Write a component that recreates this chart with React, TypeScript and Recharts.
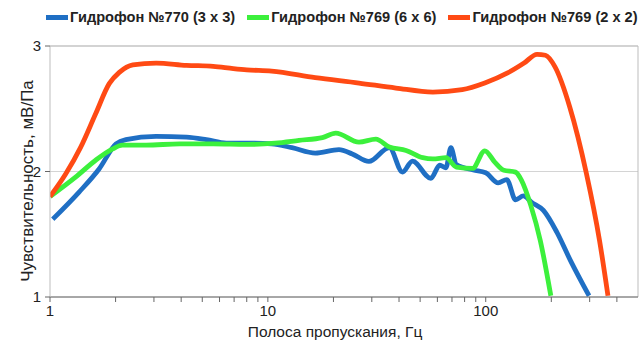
import React from 'react';
import { LineChart, Line, XAxis, YAxis, CartesianGrid, ReferenceLine } from 'recharts';

// Гидрофон №770 (3 x 3)
const blueFreq = [1.03, 1.36, 1.68, 2.01, 2.23, 3.07, 4.23, 5.22, 6.45, 8.0, 10.4, 12.9, 16.5, 21.2, 24.4, 29.1, 36.1, 41.5, 46.1, 56, 61.5, 65.7, 69.2, 73.3, 87.7, 100, 114, 125, 137, 149, 162, 184, 212, 245, 298];
const blueVal = [1.62, 1.836, 2.02, 2.22, 2.254, 2.28, 2.274, 2.254, 2.226, 2.226, 2.22, 2.19, 2.147, 2.174, 2.14, 2.08, 2.19, 1.995, 2.083, 1.945, 2.05, 2.03, 2.19, 2.055, 2.012, 1.99, 1.91, 1.935, 1.775, 1.805, 1.756, 1.69, 1.517, 1.29, 1.01];

// Гидрофон №769 (6 x 6)
const greenFreq = [1, 1.31, 1.62, 1.94, 2.15, 2.76, 3.94, 5.61, 8.0, 10.8, 13.9, 17.8, 20.5, 26.2, 31.3, 36.1, 43.1, 51.4, 57.2, 65.7, 73.3, 87, 99, 110, 121, 137, 146, 161, 178, 199];
const greenVal = [1.8, 1.955, 2.09, 2.18, 2.21, 2.21, 2.22, 2.22, 2.216, 2.226, 2.248, 2.27, 2.306, 2.234, 2.258, 2.195, 2.168, 2.11, 2.1, 2.11, 2.035, 2.025, 2.165, 2.075, 2.01, 1.995, 1.93, 1.73, 1.45, 1.01];

// Гидрофон №769 (2 x 2)
const redFreq = [1, 1.18, 1.38, 1.62, 1.87, 2.08, 2.4, 3.07, 4.23, 5.61, 6.94, 8.0, 10.4, 16.5, 26.2, 38.7, 57.2, 78, 99, 126, 150, 172, 188, 208, 243, 290, 333, 364];
const redVal = [1.8, 1.98, 2.19, 2.46, 2.7, 2.79, 2.85, 2.864, 2.846, 2.838, 2.82, 2.81, 2.8, 2.748, 2.705, 2.665, 2.633, 2.652, 2.705, 2.785, 2.864, 2.934, 2.926, 2.833, 2.514, 1.982, 1.45, 1.01];

const seriesNames = ['Гидрофон №770 (3 x 3)', 'Гидрофон №769 (6 x 6)', 'Гидрофон №769 (2 x 2)'];
const seriesColors = ['#1f6fc4', '#3cf03c', '#ff4a14'];

const xTicks = [1, 2, 3, 4, 5, 6, 7, 8, 9, 10, 20, 30, 40, 50, 60, 70, 80, 90, 100, 200, 300, 400];
const xLabels = [1, 10, 100];
const yTicks = [1, 2, 3];

const toPoints = (f: number[], v: number[]) => f.map((x, i) => ({ f: x, v: v[i] }));
const series = [
  toPoints(blueFreq, blueVal),
  toPoints(greenFreq, greenVal),
  toPoints(redFreq, redVal),
];

const FONT = '"Liberation Sans", Arial, sans-serif';

const XTick = ({ x, y, payload }: any) => {
  if (!xLabels.includes(payload.value)) return null;
  return (
    <text x={x} y={y + 1} textAnchor="middle" dominantBaseline="hanging" fontSize={15} fill="#222" fontFamily={FONT}>
      {payload.value}
    </text>
  );
};

const YTitle = () => (
  <text
    x={27}
    y={181}
    transform="rotate(-90, 27, 181)"
    textAnchor="middle"
    dominantBaseline="central"
    fontSize={17}
    fill="#222"
    fontFamily={FONT}
  >
    Чувствительность, мВ/Па
  </text>
);

const XTitle = () => (
  <text x={335} y={331} textAnchor="middle" dominantBaseline="central" fontSize={15.5} fill="#222" fontFamily={FONT}>
    Полоса пропускания, Гц
  </text>
);

const LegendBox = () => (
  <div
    style={{
      position: 'absolute',
      left: 46,
      top: 9,
      display: 'flex',
      alignItems: 'center',
      fontFamily: FONT,
      whiteSpace: 'nowrap',
    }}
  >
    {seriesNames.map((n, i) => (
      <div key={n} style={{ display: 'flex', alignItems: 'center', marginRight: 12 }}>
        <span style={{ display: 'inline-block', width: 22, height: 5, background: seriesColors[i], marginRight: 2 }} />
        <span style={{ fontSize: 14.6, fontWeight: 'bold', color: '#222' }}>{n}</span>
      </div>
    ))}
  </div>
);

export default function App() {
  return (
    <div style={{ position: 'absolute', left: 0, top: 0, width: 643, height: 340, background: '#fff' }}>
      <LineChart width={643} height={340} margin={{ top: 46, right: 5, bottom: 0, left: 0 }}>
        <CartesianGrid vertical={false} stroke="#d4d4d4" />
        <XAxis
          dataKey="f"
          type="number"
          scale="log"
          domain={[1, 500]}
          allowDataOverflow
          ticks={xTicks}
          interval={0}
          height={43}
          tick={<XTick />}
          tickSize={5}
          tickLine={{ stroke: '#666' }}
          axisLine={{ stroke: '#666' }}
          label={<XTitle />}
        />
        <YAxis
          dataKey="v"
          type="number"
          domain={[1, 3]}
          ticks={yTicks}
          width={50}
          tickSize={5}
          tickMargin={4}
          tick={{ fontSize: 15, fill: '#222', fontFamily: FONT }}
          tickLine={{ stroke: '#666' }}
          axisLine={{ stroke: '#bdbdbd' }}
          label={<YTitle />}
        />
        <ReferenceLine y={3} stroke="#bdbdbd" />
        <ReferenceLine x={500} stroke="#bdbdbd" />
        {series.map((d, i) => (
          <Line
            key={seriesNames[i]}
            data={d}
            dataKey="v"
            name={seriesNames[i]}
            type="monotone"
            stroke={seriesColors[i]}
            strokeWidth={4.8}
            dot={false}
            isAnimationActive={false}
          />
        ))}
      </LineChart>
      <LegendBox />
    </div>
  );
}
